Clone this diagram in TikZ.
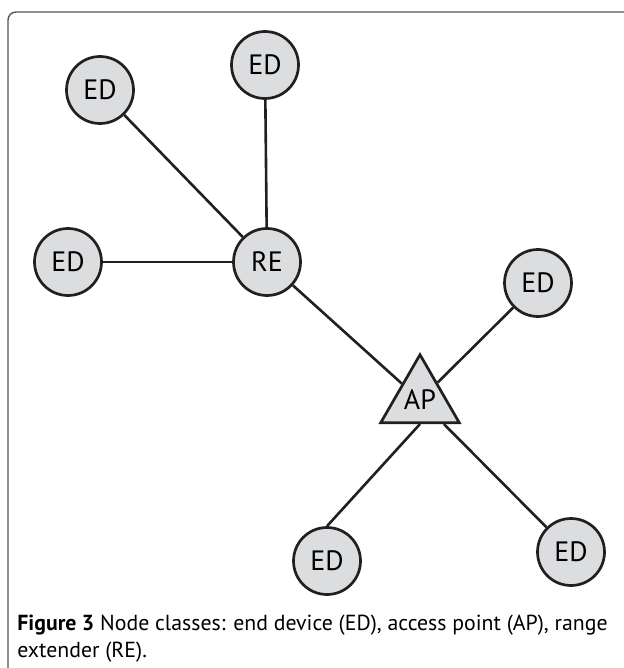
\documentclass[tikz,border=0pt]{standalone}
\usepackage{fontspec}
\setmainfont{PT Sans}
\usepackage{tikz}
\usetikzlibrary{shapes.geometric}
\definecolor{ink}{RGB}{35,31,32}
\definecolor{shade}{RGB}{220,221,223}
\definecolor{rim}{RGB}{85,85,85}

\begin{document}
\begin{tikzpicture}[
  x=0.5pt, y=-0.5pt,
  device/.style={circle, draw=ink, fill=shade, line width=1.35pt, minimum size=33.5pt, inner sep=0, font=\fontsize{14}{16}\selectfont},
  extender/.style={device},
  access/.style={regular polygon, regular polygon sides=3, draw=ink, fill=shade, line width=1.35pt, minimum size=43.5pt, inner sep=0, font=\fontsize{14}{16}\selectfont},
  link/.style={line width=1.3pt, ink},
]
\useasboundingbox (0,0) rectangle (624,668);

% Frame
\draw[rim, line width=0.7pt, rounded corners=4pt] (8,668) -- (8,12) -- (624,12);

% Range extender and access point
\node[extender] (re) at (267,262) {RE};
\node[access] (ap) at (420,400) {AP};

% End devices
\node[device] (ed1) at (100,90) {ED};
\node[device] (ed2) at (265,65) {ED};
\node[device] (ed3) at (68,262) {ED};
\node[device] (ed4) at (538,283) {ED};
\node[device] (ed5) at (327,561) {ED};
\node[device] (ed6) at (571,552) {ED};

% Links
\draw[link] (ed1) -- (re);
\draw[link] (ed2) -- (re);
\draw[link] (ed3) -- (re);
\draw[link] (re) -- (ap);
\draw[link] (ap) -- (ed4);
\draw[link] (ap.south) -- (ed5.north);
\draw[link] (ap) -- (ed6);

% Caption
\node[anchor=base west, align=left, inner sep=0, font=\fontsize{10.9}{13.5}\selectfont] (caption) at (17,657)
  {\textbf{Figure 3} Node classes: end device (ED), access point (AP), range\\extender (RE).};

\end{tikzpicture}
\end{document}
